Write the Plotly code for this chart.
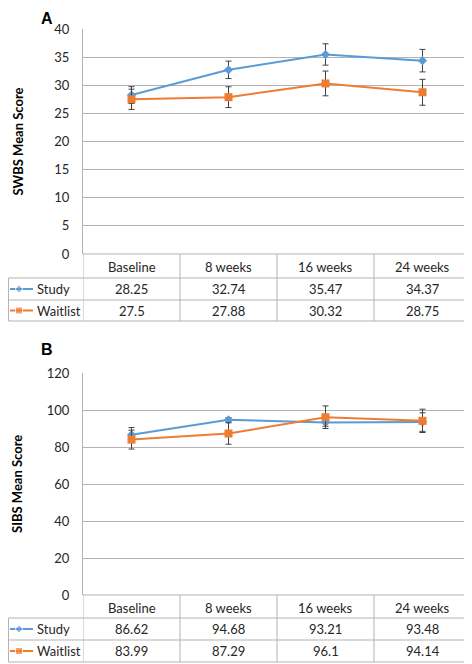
import plotly.graph_objects as go

# ---------------- data ----------------
categories = ["Baseline", "8 weeks", "16 weeks", "24 weeks"]
series_names = ["Study", "Waitlist"]

swbs_study = [28.25, 32.74, 35.47, 34.37]
swbs_waitlist = [27.5, 27.88, 30.32, 28.75]
swbs_study_err = [1.5, 1.55, 1.9, 2.0]
swbs_waitlist_err = [1.8, 1.85, 2.2, 2.3]

sibs_study = [86.62, 94.68, 93.21, 93.48]
sibs_waitlist = [83.99, 87.29, 96.1, 94.14]
sibs_study_err = [3.9, 1.2, 2.0, 5.0]
sibs_waitlist_err = [5.1, 5.8, 6.1, 6.3]

swbs_ticks = [0, 5, 10, 15, 20, 25, 30, 35, 40]
sibs_ticks = [0, 20, 40, 60, 80, 100, 120]

# ---------------- layout helpers ----------------
# The page body has an 8px margin, so the figure is drawn 8px in from the
# window's top-left corner; positions below are given in window pixels.
OFF = 8
W, H = 472 - OFF, 664 - OFF
FONT = "Lato"
BLUE = "#5B9BD5"
ORANGE = "#ED7D31"
GRID = "#b3b3b3"
TXT = "#262626"
ERR = "#404040"

def px(x):
    return (x - OFF) / W

def py(y):
    return 1 - (y - OFF) / H

X0, X1 = 83, 471
panels = [
    dict(letter="A", title="SWBS Mean Score", top=29, bottom=254, rng=[0, 40], ticks=swbs_ticks,
         study=swbs_study, wait=swbs_waitlist, serr=swbs_study_err, werr=swbs_waitlist_err,
         rows=[254, 278, 300, 321], letter_y=19),
    dict(letter="B", title="SIBS Mean Score", top=373, bottom=595, rng=[0, 120], ticks=sibs_ticks,
         study=sibs_study, wait=sibs_waitlist, serr=sibs_study_err, werr=sibs_waitlist_err,
         rows=[595, 618, 640, 662], letter_y=349),
]

fig = go.Figure()
shapes = []
annotations = []
layout_axes = {}

xs = list(range(len(categories)))

def ann(text, x, y, xref="paper", yref="paper", xanchor="center", size=13, color=TXT,
        family=FONT, angle=0):
    return dict(text=text, x=x, y=y, xref=xref, yref=yref, xanchor=xanchor, yanchor="middle",
                showarrow=False, textangle=angle, font=dict(family=family, size=size, color=color))

for i, p in enumerate(panels):
    n = i + 1
    xa = "x" if n == 1 else f"x{n}"
    ya = "y" if n == 1 else f"y{n}"
    xkey = "xaxis" if n == 1 else f"xaxis{n}"
    ykey = "yaxis" if n == 1 else f"yaxis{n}"

    fig.add_trace(go.Scatter(
        x=xs, y=p["study"], mode="lines+markers", name="Study", xaxis=xa, yaxis=ya,
        line=dict(color=BLUE, width=2), marker=dict(symbol="diamond", size=7, color=BLUE),
        error_y=dict(type="data", array=p["serr"], color=ERR, thickness=1, width=3),
        showlegend=False))
    fig.add_trace(go.Scatter(
        x=xs, y=p["wait"], mode="lines+markers", name="Waitlist", xaxis=xa, yaxis=ya,
        line=dict(color=ORANGE, width=2), marker=dict(symbol="square", size=8, color=ORANGE),
        error_y=dict(type="data", array=p["werr"], color=ERR, thickness=1, width=3),
        showlegend=False))

    layout_axes[xkey] = dict(domain=[px(X0), px(X1)], range=[-0.5, len(categories) - 0.5],
                             showgrid=False, showticklabels=False, zeroline=False,
                             showline=False, fixedrange=True, anchor=ya, automargin=False)
    layout_axes[ykey] = dict(domain=[py(p["bottom"]), py(p["top"])], range=p["rng"],
                             tickvals=p["ticks"], showgrid=True, gridcolor=GRID, gridwidth=1,
                             zeroline=False, showline=True, linecolor=GRID, linewidth=1,
                             ticks="", ticklabelstandoff=10, automargin=False,
                             tickfont=dict(family=FONT, size=13, color=TXT),
                             fixedrange=True, anchor=xa)

    annotations.append(ann(f"<b>{p['letter']}</b>", px(47), py(p["letter_y"]),
                           size=16, color="black", family="Liberation Sans"))
    annotations.append(ann(f"<b>{p['title']}</b>", px(17), py((p["top"] + p["bottom"]) / 2),
                           size=13, color="black", angle=-90))

    # ---- data table below the chart ----
    r0, r1, r2, r3 = p["rows"]
    shapes.append(dict(type="line", xref="paper", yref="paper", x0=px(X0), x1=px(X1),
                       y0=py(r0), y1=py(r0), line=dict(color=GRID, width=1)))
    for r in (r1, r2, r3):
        shapes.append(dict(type="line", xref="paper", yref="paper", x0=px(OFF + 0.5), x1=px(X1),
                           y0=py(r), y1=py(r), line=dict(color=GRID, width=1)))
    for b in range(len(categories) + 1):
        shapes.append(dict(type="line", xref=xa, yref="paper", x0=b - 0.5, x1=b - 0.5,
                           y0=py(r0), y1=py(r3), line=dict(color=GRID, width=1)))
    shapes.append(dict(type="line", xref="paper", yref="paper", x0=px(OFF + 0.5), x1=px(OFF + 0.5),
                       y0=py(r1), y1=py(r3), line=dict(color=GRID, width=1)))

    for j, c in enumerate(categories):
        annotations.append(ann(c, j, py((r0 + r1) / 2 + 1), xref=xa))
    for vals, (ra, rb) in ((p["study"], (r1, r2)), (p["wait"], (r2, r3))):
        for j, v in enumerate(vals):
            annotations.append(ann(f"{v:g}", j, py((ra + rb) / 2), xref=xa))
    for name, (ra, rb) in zip(series_names, ((r1, r2), (r2, r3))):
        annotations.append(ann(name, px(35), py((ra + rb) / 2), xanchor="left"))

    for name, (ra, rb), col, sym, sz in ((series_names[0], (r1, r2), BLUE, "diamond", 6),
                                         (series_names[1], (r2, r3), ORANGE, "square", 7)):
        yc = (ra + rb) / 2
        fig.add_trace(go.Scatter(x=[10, 19, 33], y=[yc, yc, yc], mode="lines+markers",
                                 xaxis="x3", yaxis="y3", showlegend=False, hoverinfo="skip",
                                 line=dict(color=col, width=2),
                                 marker=dict(symbol=sym, size=[0, sz, 0], color=col)))

# overlay axis in window pixels for the legend keys
layout_axes["xaxis3"] = dict(domain=[0, 1], range=[OFF, OFF + W], visible=False, fixedrange=True,
                             anchor="y3", automargin=False)
layout_axes["yaxis3"] = dict(domain=[0, 1], range=[OFF + H, OFF], visible=False, fixedrange=True,
                             anchor="x3", automargin=False)

fig.update_layout(
    template="none",
    width=W, height=H, autosize=False,
    margin=dict(l=0, r=0, t=0, b=0, pad=0),
    paper_bgcolor="white", plot_bgcolor="rgba(0,0,0,0)",
    shapes=shapes, annotations=annotations, showlegend=False,
    **layout_axes,
)

fig.write_html("out.html")
